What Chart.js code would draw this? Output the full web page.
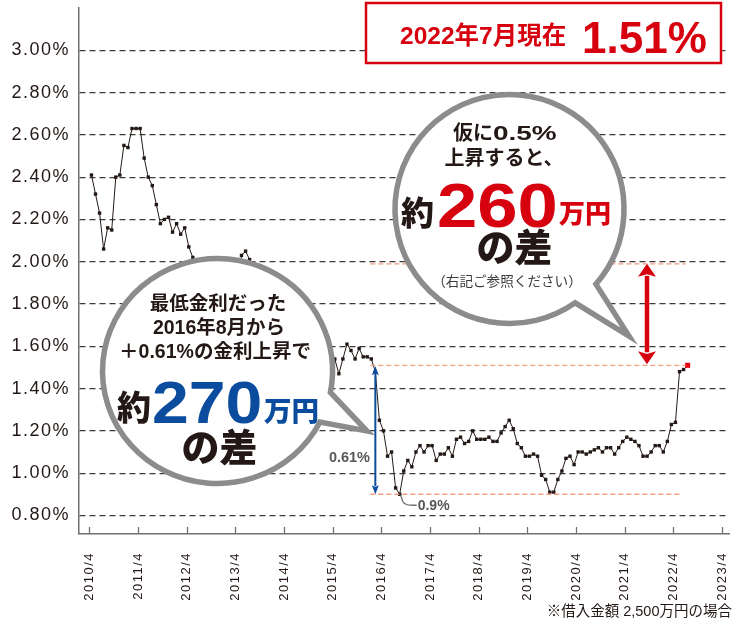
<!DOCTYPE html>
<html lang="ja">
<head>
<meta charset="utf-8">
<title>金利推移</title>
<script src="https://cdn.jsdelivr.net/npm/chart.js@4.4.1/dist/chart.umd.min.js"></script>
<style>
  html, body { margin: 0; padding: 0; background: #fff; }
  #wrap { width: 733px; height: 619px; }
</style>
</head>
<body>
<div id="wrap"><canvas id="rate-chart" width="733" height="619"></canvas></div>
<script>
// Monthly rate (%) from 2010/4 to 2022/7
const startYear = 2010;
const rates = [
  2.41, 2.32, 2.23, 2.06, 2.16, 2.15, 2.40, 2.41, 2.55, 2.54, 2.63, 2.63,   // 2010/4-
  2.63, 2.49, 2.40, 2.36, 2.27, 2.18, 2.20, 2.21, 2.14, 2.18, 2.13, 2.16,   // 2011/4-
  2.07, 2.02, 1.96, 1.93, 1.89, 1.91, 1.90, 1.86, 1.86, 1.88, 1.88, 1.82,   // 2012/4-
  1.80, 2.03, 2.05, 2.01, 1.91, 1.94, 1.89, 1.85, 1.82, 1.80, 1.80, 1.77,   // 2013/4-
  1.73, 1.73, 1.69, 1.69, 1.66, 1.65, 1.64, 1.60, 1.56, 1.47, 1.37, 1.47,   // 2014/4-
  1.54, 1.47, 1.54, 1.61, 1.58, 1.54, 1.59, 1.55, 1.55, 1.54, 1.48, 1.25,   // 2015/4-
  1.20, 1.08, 1.10, 0.93, 0.90, 1.01, 1.06, 1.03, 1.10, 1.13, 1.10, 1.13,   // 2016/4-
  1.13, 1.06, 1.09, 1.09, 1.12, 1.08, 1.16, 1.17, 1.14, 1.15, 1.20, 1.16,   // 2017/4-
  1.16, 1.16, 1.17, 1.15, 1.15, 1.19, 1.22, 1.25, 1.21, 1.14, 1.12, 1.08,   // 2018/4-
  1.08, 1.09, 1.08, 0.99, 0.97, 0.91, 0.91, 0.97, 1.01, 1.07, 1.08, 1.04,   // 2019/4-
  1.10, 1.10, 1.09, 1.10, 1.11, 1.12, 1.10, 1.12, 1.12, 1.09, 1.12, 1.15,   // 2020/4-
  1.17, 1.16, 1.15, 1.13, 1.08, 1.08, 1.10, 1.13, 1.13, 1.10, 1.15, 1.23,   // 2021/4-
  1.24, 1.48, 1.49, 1.51                                                    // 2022/4-7
];
const yTicks = [0.8, 1.0, 1.2, 1.4, 1.6, 1.8, 2.0, 2.2, 2.4, 2.6, 2.8, 3.0];
const tickYears = [2010, 2011, 2012, 2013, 2014, 2015, 2016, 2017, 2018, 2019, 2020, 2021, 2022, 2023];

const lowRate = 0.9;        // 2016/8
const lowIndex = 76;
const nowRate = 1.51;       // 2022/7
const upperLevel = 1.99;    // "+0.5%" guide as drawn
const arrowIndex = 70;      // blue arrow sits on 2016/2

const FONT = '"Liberation Sans", "Noto Sans CJK JP", sans-serif';
const INK = '#231815';
const RED = '#d7000f';
const BLUE = '#0b4c9f';
const GRAY = '#595757';

function text(ctx, str, x, y, size, color, opts = {}) {
  const { weight = 'bold', align = 'left', sx = 1 } = opts;
  ctx.save();
  ctx.font = `${weight} ${size}px ${FONT}`;
  ctx.fillStyle = color;
  ctx.textBaseline = 'alphabetic';
  ctx.textAlign = 'left';
  const w = ctx.measureText(str).width * sx;
  let left = x;
  if (align === 'center') left = x - w / 2;
  if (align === 'right') left = x - w;
  ctx.translate(left, y);
  ctx.scale(sx, 1);
  ctx.fillText(str, 0, 0);
  ctx.restore();
}

function vArrow(ctx, x, top, bottom, color, lw, headH, headW) {
  ctx.save();
  ctx.strokeStyle = color;
  ctx.fillStyle = color;
  ctx.lineWidth = lw;
  ctx.beginPath();
  ctx.moveTo(x, top + headH - 1);
  ctx.lineTo(x, bottom - headH + 1);
  ctx.stroke();
  ctx.beginPath();
  ctx.moveTo(x, top);
  ctx.lineTo(x - headW / 2, top + headH);
  ctx.lineTo(x, top + headH * 0.8);
  ctx.lineTo(x + headW / 2, top + headH);
  ctx.closePath();
  ctx.fill();
  ctx.beginPath();
  ctx.moveTo(x, bottom);
  ctx.lineTo(x - headW / 2, bottom - headH);
  ctx.lineTo(x, bottom - headH * 0.8);
  ctx.lineTo(x + headW / 2, bottom - headH);
  ctx.closePath();
  ctx.fill();
  ctx.restore();
}

function bubble(ctx, cx, cy, rx, ry, a1, a2, tipX, tipY) {
  // round balloon with a pointed tail between angles a1 and a2 (degrees)
  const r1 = a1 * Math.PI / 180, r2 = a2 * Math.PI / 180;
  ctx.save();
  ctx.beginPath();
  ctx.ellipse(cx, cy, rx, ry, 0, r2, r1 + Math.PI * 2);
  ctx.lineTo(tipX, tipY);
  ctx.closePath();
  ctx.fillStyle = '#fff';
  ctx.fill();
  ctx.lineWidth = 5.5;
  ctx.lineJoin = 'miter';
  ctx.strokeStyle = '#8c8c8c';
  ctx.stroke();
  ctx.restore();
}

// the printed tick labels are set wide; a little tracking gets close
const spacing = {
  id: 'spacing',
  beforeDraw(chart) { chart.ctx.letterSpacing = '1.5px'; }
};

const annotate = {
  id: 'annotate',
  afterDatasetsDraw(chart) {
    const { ctx, chartArea: a, scales: { x, y } } = chart;
    ctx.save();
    ctx.letterSpacing = '0px';

    // short inward ticks on the x axis
    ctx.strokeStyle = '#727171';
    ctx.lineWidth = 1.3;
    x.ticks.forEach(t => {
      const px = Math.round(x.getPixelForValue(t.value)) + 0.5;
      ctx.beginPath();
      ctx.moveTo(px, a.bottom - 7);
      ctx.lineTo(px, a.bottom);
      ctx.stroke();
    });

    // orange guide lines
    const ax = x.getPixelForValue(arrowIndex + 0.5);
    const endX = x.getPixelForValue(rates.length - 0.5) - 2;
    ctx.strokeStyle = '#f2a07e';
    ctx.lineWidth = 1.3;
    ctx.setLineDash([5, 3]);
    [[upperLevel, endX], [nowRate, endX], [lowRate, endX - 4]].forEach(([v, ex]) => {
      const py = y.getPixelForValue(v);
      ctx.beginPath();
      ctx.moveTo(ax - 5, py);
      ctx.lineTo(ex, py);
      ctx.stroke();
    });
    ctx.setLineDash([]);

    // blue arrow: low -> now
    vArrow(ctx, ax, y.getPixelForValue(nowRate) + 1, y.getPixelForValue(lowRate), BLUE, 2, 9, 7);
    // red arrow: now -> +0.5%
    vArrow(ctx, 647, y.getPixelForValue(upperLevel), y.getPixelForValue(nowRate) - 1, RED, 4.5, 13, 18);

    // leader for the 0.9% label
    const lx = x.getPixelForValue(lowIndex + 0.5);
    const ly = y.getPixelForValue(lowRate);
    ctx.strokeStyle = '#727171';
    ctx.lineWidth = 1.3;
    ctx.beginPath();
    ctx.moveTo(lx + 1, ly + 1);
    ctx.lineTo(lx + 3, ly + 7);
    ctx.quadraticCurveTo(lx + 5, ly + 11, lx + 12, ly + 11);
    ctx.lineTo(lx + 17, ly + 11);
    ctx.stroke();
    text(ctx, '0.9%', lx + 18, ly + 16, 14, GRAY);
    text(ctx, '0.61%', 370, 461.5, 14.5, GRAY, { align: 'right' });

    // left balloon
    bubble(ctx, 217.5, 371, 115, 112.5, 11, 27, 367, 431);
    text(ctx, '最低金利だった', 218, 310, 19.5, INK, { align: 'center' });
    text(ctx, '2016年8月から', 219, 334, 19.5, INK, { align: 'center' });
    text(ctx, '＋0.61%の金利上昇で', 215, 358, 19.5, INK, { align: 'center' });
    text(ctx, '約', 117, 420, 34, INK, { weight: '900' });
    text(ctx, '270', 152, 423, 58.5, BLUE, { sx: 1.13 });
    text(ctx, '万円', 264, 421, 27.5, BLUE, { weight: '900' });
    text(ctx, 'の差', 219.5, 461, 38, INK, { align: 'center', weight: '900' });

    // right balloon
    bubble(ctx, 509.5, 209, 114.5, 114.5, 41, 55, 629, 336);
    text(ctx, '仮に', 453, 140, 20, INK);
    text(ctx, '0.5%', 493, 140, 21, INK, { sx: 1.33 });
    text(ctx, '上昇すると、', 504, 165, 20, INK, { align: 'center' });
    text(ctx, '約', 401, 225, 33, INK, { weight: '900' });
    text(ctx, '260', 437, 227, 63, RED, { sx: 1.15 });
    text(ctx, '万円', 559, 223, 26, RED, { weight: '900' });
    text(ctx, 'の差', 514.5, 261, 38, INK, { align: 'center', weight: '900' });
    text(ctx, '（右記ご参照ください）', 507, 286, 13.6, '#3e3a39', { align: 'center', weight: 'normal' });

    // current rate box
    ctx.fillStyle = '#fff';
    ctx.fillRect(366, 3, 355, 60);
    ctx.strokeStyle = RED;
    ctx.lineWidth = 2.5;
    ctx.strokeRect(366, 3, 355, 60);
    text(ctx, '2022年7月現在', 400, 44, 24.5, RED);
    text(ctx, '1.51%', 582, 53, 44, RED);

    // note
    text(ctx, '※借入金額 2,500万円の場合', 732, 616, 14.5, INK, { align: 'right', weight: 'normal' });
    ctx.restore();
  }
};

new Chart(document.getElementById('rate-chart'), {
  type: 'line',
  data: {
    datasets: [{
      data: rates.map((r, i) => ({ x: i + 0.5, y: r })),   // plotted mid-month
      borderColor: INK,
      borderWidth: 1,
      tension: 0,
      pointStyle: 'rect',
      pointRadius: c => c.dataIndex === rates.length - 1 ? 3.6 : 2.4,
      pointBackgroundColor: c => c.dataIndex === rates.length - 1 ? '#e60012' : INK,
      pointBorderWidth: 0
    }]
  },
  options: {
    responsive: false,
    animation: false,
    layout: { padding: { top: 8, left: 0, right: 0, bottom: 0 } },
    plugins: { legend: { display: false }, tooltip: { enabled: false } },
    scales: {
      x: {
        type: 'linear',
        min: -2.57,
        max: 157.7,
        afterBuildTicks: s => { s.ticks = tickYears.map(yr => ({ value: (yr - startYear) * 12 })); },
        afterFit: s => { s.height = 85; s.paddingLeft = 0; s.paddingRight = 0; },
        grid: { display: false },
        border: { color: '#727171', width: 1.5 },
        ticks: {
          autoSkip: false,
          minRotation: 90,
          maxRotation: 90,
          padding: 10,
          color: INK,
          font: { family: FONT, size: 13 },
          callback: v => `${startYear + v / 12}/4`
        }
      },
      y: {
        min: 0.712,
        max: 3.2,
        afterBuildTicks: s => { s.ticks = yTicks.map(v => ({ value: v })); },
        afterFit: s => { s.width = 79; s.paddingTop = 0; s.paddingBottom = 0; },
        grid: { color: '#3e3a39', lineWidth: 1.2, drawTicks: false },
        border: { color: '#727171', width: 1.5, dash: [6, 4] },
        ticks: {
          padding: 9,
          color: INK,
          font: { family: FONT, size: 18 },
          callback: v => v.toFixed(2) + '%'
        }
      }
    }
  },
  plugins: [spacing, annotate]
});
</script>
</body>
</html>
